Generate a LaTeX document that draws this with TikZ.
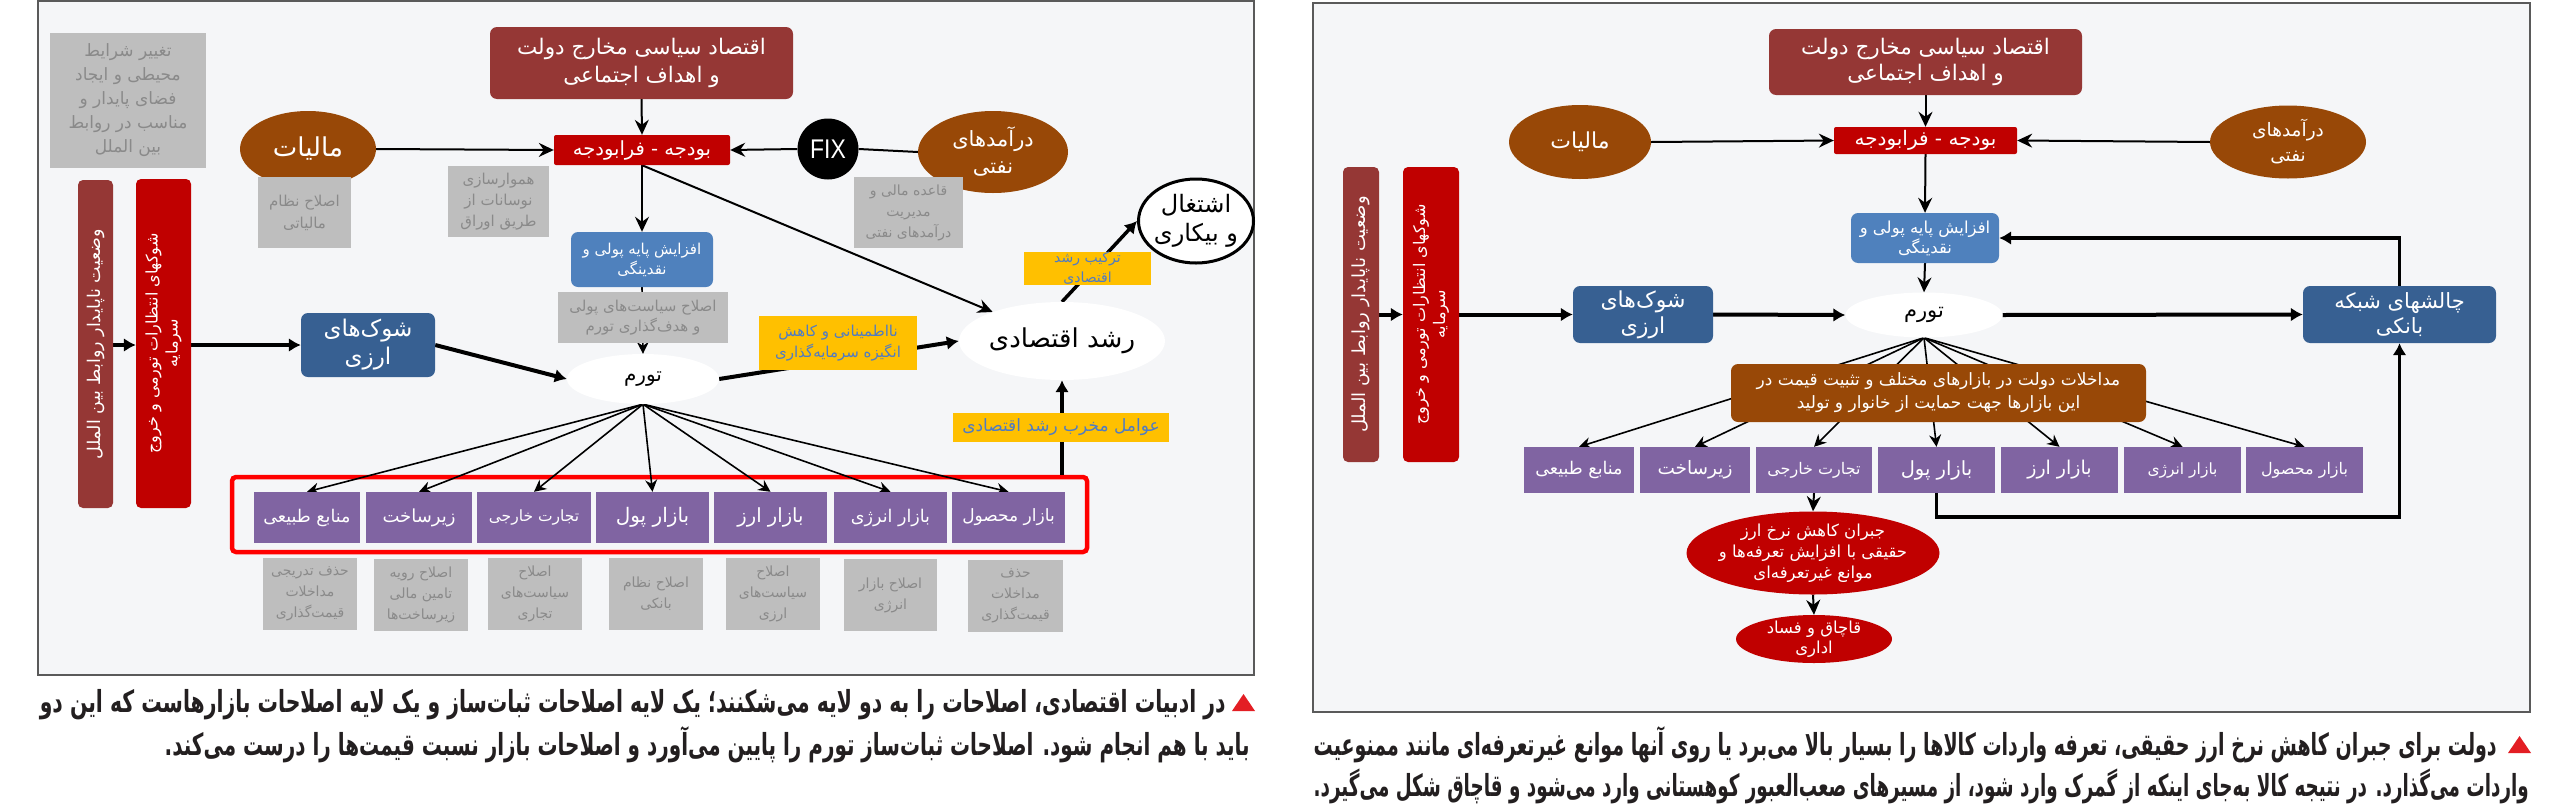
\documentclass[tikz,border=0pt]{standalone}
\usepackage{fontspec}
\usepackage{graphicx}
\usetikzlibrary{arrows.meta,shapes.geometric,calc}
\TeXXeTstate=1
\newfontfamily\farsifont[Script=Arabic]{DejaVu Sans}
\newfontfamily\latinfont{Liberation Sans}
\newcommand{\rtl}[1]{\beginR#1\endR}
\newcommand{\fz}[2]{\fontsize{#1}{#2}\selectfont}
\newcommand{\capline}[2]{\resizebox{#1pt}{29pt}{\vphantom{آ}#2}}
\definecolor{cDRed}{HTML}{953735}
\definecolor{cRed}{HTML}{C00000}
\definecolor{cBrown}{HTML}{984807}
\definecolor{cDBlue}{HTML}{376092}
\definecolor{cLBlue}{HTML}{4F81BD}
\definecolor{cPurp}{HTML}{8064A2}
\definecolor{cYel}{HTML}{FFC000}
\definecolor{cYelText}{HTML}{4F7BC4}
\definecolor{cNote}{HTML}{BEBEBE}
\definecolor{cNoteText}{HTML}{8A8A8A}
\definecolor{cPanel}{HTML}{F5F6F8}
\definecolor{cFrame}{HTML}{5A5A5A}
\definecolor{cTri}{HTML}{E31E24}
\definecolor{cCap}{HTML}{231F20}
\pgfdeclarelayer{back}
\pgfdeclarelayer{conn}
\pgfsetlayers{back,conn,main}
\tikzset{
  box/.style={inner sep=0pt, align=center, text=white, font=\farsifont},
  rbox/.style={box, rounded corners=7pt},
  sbox/.style={box, rounded corners=2pt},
  ebox/.style={box, ellipse, inner sep=-10pt},
  note/.style={box, fill=cNote, text=cNoteText},
  yel/.style={box, fill=cYel, text=cYelText},
  purp/.style={box, fill=cPurp},
  sz/.style 2 args={minimum width=#1pt, minimum height=#2pt},
  arr/.style={draw=black, line width=2pt, -{Stealth[length=15pt,width=14pt,inset=5pt]}},
  arrs/.style={draw=black, line width=1.6pt, -{Stealth[length=12pt,width=12pt,inset=4pt]}},
  arrt/.style={draw=black, line width=4pt, -{Latex[length=12pt,width=14pt]}},
  ln/.style={draw=black, line width=2pt},
  captxt/.style={inner sep=0pt, text=cCap, font=\farsifont\bfseries},
}
\begin{document}
\begin{tikzpicture}[x=1pt,y=-1pt]
\useasboundingbox (0,0) rectangle (2568,809);
\begin{pgfonlayer}{back}
  \fill[white] (0,0) rectangle (2568,809);
  \draw[draw=cFrame, line width=1.5pt, fill=cPanel] (38,1) rectangle (1254,675);
  \draw[draw=cFrame, line width=1.5pt, fill=cPanel] (1313,3) rectangle (2530,712);
  \node[draw=red, line width=4.5pt, rounded corners=4pt, inner sep=0pt, sz={855}{75}] (redframe) at (659.5,514.5) {};
\end{pgfonlayer}

% ================= LEFT PANEL =================
\node[rbox, fill=cDRed, sz={303}{72}, font=\farsifont\fz{21.5}{28}] (topL) at (641.5,63) {\rtl{اقتصاد سیاسی مخارج دولت}\\\rtl{و اهداف اجتماعی}};
\node[sbox, fill=cRed, sz={176}{30}, font=\farsifont\fz{19.5}{24}] (budL) at (642,150) {\rtl{بودجه - فرابودجه}};
\node[ebox, fill=cBrown, sz={136}{76}, font=\farsifont\fz{26}{30}] (malL) at (308,149) {\rtl{مالیات}};
\node[note, sz={93}{71}, font=\farsifont\fz{15}{22}] (noteMal) at (304.5,212.5) {\rtl{اصلاح نظام}\\\rtl{مالیاتی}};
\node[note, sz={101}{71}, font=\farsifont\fz{15}{21}] (noteHam) at (498.5,201.5) {\rtl{هموارسازی}\\\rtl{نوسانات از}\\\rtl{طریق اوراق}};
\node[box, circle, fill=black, minimum size=61pt, font=\latinfont\fz{27}{27}] (fixL) at (828,149) {\scalebox{0.85}[1]{FIX}};
\node[ebox, fill=cBrown, sz={150}{82}, font=\farsifont\fz{21}{27}] (oilL) at (993,152) {\rtl{درآمدهای}\\\rtl{نفتی}};
\node[note, sz={109}{71}, font=\farsifont\fz{14}{21}] (noteOil) at (908.5,212.5) {\rtl{قاعده مالی و}\\\rtl{مدیریت}\\\rtl{درآمدهای نفتی}};
\node[ebox, draw=black, line width=3pt, fill=white, text=black, sz={115}{84}, font=\farsifont\fz{24}{29}] (jobL) at (1196,221) {\rtl{اشتغال}\\\rtl{و بیکاری}};
\node[yel, sz={127}{31}, font=\farsifont\fz{14}{20}] (yelJob) at (1087.5,268.5) {\rtl{ترکیب رشد}\\\rtl{اقتصادی}};
\node[note, sz={156}{135}, font=\farsifont\fz{17}{24}] (noteTL) at (128,100.5) {\rtl{تغییر شرایط}\\\rtl{محیطی و ایجاد}\\\rtl{فضای پایدار و}\\\rtl{مناسب در روابط}\\\rtl{بین الملل}};
\node[rbox, rounded corners=5pt, fill=cDRed, sz={35}{328}, font=\farsifont\fz{17.5}{20}] (barA) at (95.5,344) {\rotatebox{90}{\rtl{وضعیت ناپایدار روابط بین الملل}}};
\node[rbox, rounded corners=5pt, fill=cRed, sz={55}{329}, font=\farsifont\fz{16}{20}] (barB) at (163.5,343.5) {\rotatebox{90}{\begin{tabular}{@{}c@{}}\rtl{شوکهای انتظارات تورمی و خروج}\\\rtl{سرمایه}\end{tabular}}};
\node[rbox, fill=cDBlue, sz={134}{64}, font=\farsifont\fz{23}{28}] (shockL) at (368,345) {\rtl{شوک‌های}\\\rtl{ارزی}};
\node[rbox, fill=cLBlue, sz={142}{55}, font=\farsifont\fz{15}{20}] (afzL) at (642,259.5) {\rtl{افزایش پایه پولی و}\\\rtl{نقدینگی}};
\node[note, sz={170}{51}, font=\farsifont\fz{15}{20}] (notePol) at (643,317.5) {\rtl{اصلاح سیاست‌های پولی}\\\rtl{و  هدف‌گذاری تورم}};
\node[ebox, fill=white, text=black, sz={152}{50}, font=\farsifont\fz{20}{24}] (tavL) at (643,379) {\rtl{تورم}};
\node[ebox, fill=white, text=black, sz={206}{78}, font=\farsifont\fz{26}{30}] (growL) at (1062,341) {\rtl{رشد اقتصادی}};
\node[yel, sz={158}{54}, font=\farsifont\fz{15}{21}] (yelUnc) at (838,343) {\rtl{نااطمینانی و کاهش}\\\rtl{انگیزه سرمایه‌گذاری}};
\node[yel, sz={216}{29}, font=\farsifont\fz{17}{20}] (yelDes) at (1061,427.5) {\rtl{عوامل مخرب رشد اقتصادی}};

\node[purp, sz={106}{51}, font=\farsifont\fz{17.5}{20}] (p1) at (307,517.5) {\rtl{منابع طبیعی}};
\node[purp, sz={106}{51}, font=\farsifont\fz{18}{20}] (p2) at (419,517.5) {\rtl{زیرساخت}};
\node[purp, sz={114}{51}, font=\farsifont\fz{15.5}{20}] (p3) at (534,517.5) {\rtl{تجارت خارجی}};
\node[purp, sz={113}{51}, font=\farsifont\fz{20}{20}] (p4) at (652.5,517.5) {\rtl{بازار پول}};
\node[purp, sz={113}{51}, font=\farsifont\fz{19.5}{20}] (p5) at (770.5,517.5) {\rtl{بازار ارز}};
\node[purp, sz={113}{51}, font=\farsifont\fz{17.5}{20}] (p6) at (890.5,517.5) {\rtl{بازار انرژی}};
\node[purp, sz={113}{51}, font=\farsifont\fz{17}{20}] (p7) at (1008.5,517.5) {\rtl{بازار محصول}};

\node[note, sz={94}{72}, font=\farsifont\fz{14}{21}] (n1) at (310,594) {\rtl{حذف تدریجی}\\\rtl{مداخلات}\\\rtl{قیمت‌گذاری}};
\node[note, sz={94}{72}, font=\farsifont\fz{14}{21}] (n2) at (421,595) {\rtl{اصلاح رویه}\\\rtl{تامین مالی}\\\rtl{زیرساخت‌ها}};
\node[note, sz={94}{72}, font=\farsifont\fz{14}{21}] (n3) at (535,594) {\rtl{اصلاح}\\\rtl{سیاست‌های}\\\rtl{تجاری}};
\node[note, sz={94}{72}, font=\farsifont\fz{14}{21}] (n4) at (656,594) {\rtl{اصلاح نظام}\\\rtl{بانکی}};
\node[note, sz={94}{72}, font=\farsifont\fz{14}{21}] (n5) at (773,594) {\rtl{اصلاح}\\\rtl{سیاست‌های}\\\rtl{ارزی}};
\node[note, sz={93}{72}, font=\farsifont\fz{14}{21}] (n6) at (890.5,595) {\rtl{اصلاح بازار}\\\rtl{انرژی}};
\node[note, sz={95}{72}, font=\farsifont\fz{14}{21}] (n7) at (1015.5,596) {\rtl{حذف}\\\rtl{مداخلات}\\\rtl{قیمت‌گذاری}};

% ================= RIGHT PANEL =================
\node[rbox, fill=cDRed, sz={313}{66}, font=\farsifont\fz{21.5}{26}] (topR) at (1925.5,62) {\rtl{اقتصاد سیاسی مخارج دولت}\\\rtl{و اهداف اجتماعی}};
\node[sbox, fill=cRed, sz={183}{27}, font=\farsifont\fz{20}{22}] (budR) at (1925.5,140.5) {\rtl{بودجه - فرابودجه}};
\node[ebox, fill=cBrown, sz={142}{74}, font=\farsifont\fz{22}{28}] (malR) at (1580,142) {\rtl{مالیات}};
\node[ebox, fill=cBrown, sz={156}{73}, font=\farsifont\fz{18.5}{25}] (oilR) at (2288,142) {\rtl{درآمدهای}\\\rtl{نفتی}};
\node[rbox, fill=cLBlue, sz={148}{50}, font=\farsifont\fz{16.5}{20}] (afzR) at (1925,238) {\rtl{افزایش پایه پولی و}\\\rtl{نقدینگی}};
\node[ebox, fill=white, text=black, sz={157}{45}, font=\farsifont\fz{21}{24}] (tavR) at (1924,315) {\rtl{تورم}};
\node[rbox, fill=cDBlue, sz={193}{57}, font=\farsifont\fz{21}{25}] (bankR) at (2399.5,314.5) {\rtl{چالشهای شبکه}\\\rtl{بانکی}};
\node[rbox, rounded corners=5pt, fill=cDRed, sz={36}{295}, font=\farsifont\fz{18}{20}] (barAR) at (1361,314.5) {\rotatebox{90}{\rtl{وضعیت ناپایدار روابط بین الملل}}};
\node[rbox, rounded corners=5pt, fill=cRed, sz={56}{295}, font=\farsifont\fz{16}{20}] (barBR) at (1431,314.5) {\rotatebox{90}{\begin{tabular}{@{}c@{}}\rtl{شوکهای انتظارات تورمی و خروج}\\\rtl{سرمایه}\end{tabular}}};
\node[rbox, fill=cDBlue, sz={140}{57}, font=\farsifont\fz{22}{26}] (shockR) at (1643,314.5) {\rtl{شوک‌های}\\\rtl{ارزی}};
\node[rbox, fill=cBrown, sz={415}{58}, font=\farsifont\fz{17}{23}] (brownR) at (1938.5,393) {\rtl{مداخلات دولت در بازارهای مختلف و تثبیت قیمت در}\\\rtl{این بازارها جهت حمایت از خانوار و تولید}};

\node[purp, sz={110}{46}, font=\farsifont\fz{17.5}{20}] (q1) at (1579,470) {\rtl{منابع طبیعی}};
\node[purp, sz={110}{46}, font=\farsifont\fz{18.5}{20}] (q2) at (1695,470) {\rtl{زیرساخت}};
\node[purp, sz={116}{46}, font=\farsifont\fz{16}{20}] (q3) at (1814,470) {\rtl{تجارت خارجی}};
\node[purp, sz={117}{46}, font=\farsifont\fz{19.5}{20}] (q4) at (1936.5,470) {\rtl{بازار پول}};
\node[purp, sz={117}{46}, font=\farsifont\fz{19}{20}] (q5) at (2059.5,470) {\rtl{بازار ارز}};
\node[purp, sz={117}{46}, font=\farsifont\fz{15.5}{20}] (q6) at (2182.5,470) {\rtl{بازار انرژی}};
\node[purp, sz={117}{46}, font=\farsifont\fz{16}{20}] (q7) at (2304.5,470) {\rtl{بازار محصول}};

\node[ebox, fill=cRed, sz={253}{83}, font=\farsifont\fz{16.5}{21}] (redEll) at (1813,553) {\rtl{جبران کاهش نرخ ارز}\\\rtl{حقیقی با افزایش تعرفه‌ها و}\\\rtl{موانع غیرتعرفه‌ای}};
\node[ebox, fill=cRed, sz={156}{48}, font=\farsifont\fz{16.5}{20}] (smugR) at (1814,639) {\rtl{قاچاق و فساد}\\\rtl{اداری}};

% ================= CAPTIONS =================
\fill[cTri] (1232,711) -- (1243.5,694) -- (1255,711) -- cycle;
\node[captxt, anchor=east] (capL1) at (1226,702) {\capline{1186}{\beginR در ادبیات اقتصادی، اصلاحات را به دو لایه می‌شکنند؛ یک لایه اصلاحات ثبات‌ساز  و یک لایه اصلاحات بازارهاست که این دو\endR}};
\node[captxt, anchor=east] (capL2) at (1250,745) {\capline{1085}{\beginR باید با هم انجام شود. اصلاحات ثبات‌ساز تورم را پایین می‌آورد و اصلاحات بازار نسبت قیمت‌ها را درست می‌کند.\endR}};
\fill[cTri] (2508,753) -- (2519.5,736) -- (2531,753) -- cycle;
\node[captxt, anchor=east] (capR1) at (2497,745) {\capline{1183}{\beginR دولت برای جبران کاهش نرخ ارز حقیقی، تعرفه واردات کالاها را بسیار بالا می‌برد یا روی آنها موانع غیرتعرفه‌ای مانند ممنوعیت\endR}};
\node[captxt, anchor=east] (capR2) at (2529,786) {\capline{1215}{\beginR واردات می‌گذارد. در نتیجه کالا به‌جای اینکه از گمرک وارد شود، از مسیرهای صعب‌العبور کوهستانی وارد می‌شود و قاچاق شکل می‌گیرد.\endR}};

% ================= CONNECTORS =================
\begin{pgfonlayer}{conn}
  \draw[arr] (topL.south) -- (budL.north);
  \draw[arr] (malL.east) -- (budL.west);
  \draw[ln] (oilL.west) -- (fixL.east);
  \draw[arr] (fixL.west) -- (budL.east);
  \draw[arr] (budL.south) -- (afzL.north);
  \draw[arrs] (afzL.south) -- (tavL.north);
  \draw[arr] (budL.south) -- (growL);
  \draw[arrt] (shockL.east) -- (tavL.west);
  \draw[arrt] (tavL.east) -- (growL.west);
  \draw[arrt] (barA.east |- shockL.west) -- (barB.west |- shockL.west);
  \draw[arrt] (barB.east |- shockL.west) -- (shockL.west);
  \draw[arrt, line width=3.5pt] (growL.north) -- (jobL.west);
  \foreach \p in {p1,p2,p3,p4,p5,p6,p7} \draw[arrs] (tavL.south) -- (\p.north);
  \draw[arrt, line width=3.5pt] (growL.south |- redframe.north) -- (growL.south);

  \draw[arr] (topR.south) -- (budR.north);
  \draw[arr] (malR.east) -- (budR.west);
  \draw[arr] (oilR.west) -- (budR.east);
  \draw[arr] (budR.south) -- (afzR.north);
  \draw[arr] (afzR.south) -- (tavR.north);
  \draw[arrt] (barAR.east |- shockR.west) -- (barBR.west |- shockR.west);
  \draw[arrt] (barBR.east |- shockR.west) -- (shockR.west);
  \draw[arrt] (shockR.east) -- (tavR.west);
  \draw[arrt] (tavR.east) -- (bankR.west);
  \draw[arrt, line width=3.5pt] (bankR.north) |- (afzR.east);
  \foreach \q in {q1,q2,q3,q4,q5,q6,q7} \draw[arrs] (tavR.south) -- (\q.north);
  \draw[arr] (q3.south) -- (redEll.north);
  \draw[arr] (redEll.south) -- (smugR.north);
  \draw[arrt, line width=3.5pt] (q4.south) -- ++(0,24) -| (bankR.south);
\end{pgfonlayer}
\end{tikzpicture}
\end{document}
